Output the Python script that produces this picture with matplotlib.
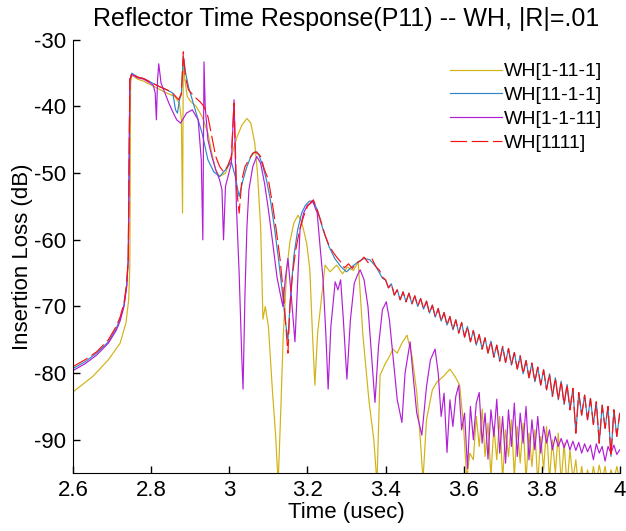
import numpy as np
import matplotlib
matplotlib.use('Agg')
import matplotlib.pyplot as plt

plt.rcParams['font.family'] = ['Liberation Sans', 'DejaVu Sans']
plt.rcParams['axes.unicode_minus'] = False

labels = ['WH[1-11-1]', 'WH[11-1-1]', 'WH[1-1-11]', 'WH[1111]']
colors = ['#d2b214', '#2f86c8', '#b21ed6', '#ff1010']

# ---- WH[1111] (red) ----
t_red = [2.600, 2.630, 2.660, 2.690, 2.710, 2.720, 2.730, 2.737, 2.741, 2.743, 2.745,
         2.750, 2.765, 2.780, 2.800, 2.820, 2.840, 2.855, 2.870, 2.877, 2.882, 2.887,
         2.895, 2.910, 2.925, 2.935, 2.945, 2.955, 2.965, 2.975, 2.985, 2.995, 3.005,
         3.012, 3.018, 3.025, 3.032, 3.040, 3.050, 3.060, 3.070, 3.080, 3.090, 3.100,
         3.110, 3.120, 3.130, 3.140, 3.146, 3.150, 3.155, 3.162, 3.170, 3.180, 3.190,
         3.200, 3.210, 3.215, 3.225, 3.235, 3.245, 3.255, 3.265, 3.275, 3.285, 3.295,
         3.305, 3.315, 3.325, 3.335, 3.345, 3.355, 3.365, 3.375, 3.385, 3.3925]
db_red = [-79.0, -78.0, -76.8, -75.0, -73.0, -71.6, -69.5, -66.5, -62.5, -50.0, -36.0,
          -35.0, -35.6, -35.8, -36.4, -37.0, -37.5, -38.0, -39.0, -38.0, -31.8, -35.5,
          -37.5, -38.5, -39.3, -40.0, -41.5, -44.5, -47.5, -49.0, -49.8, -49.0, -47.5,
          -39.5, -52.0, -56.0, -51.0, -49.0, -48.0, -47.0, -46.8, -47.5, -49.5, -51.0,
          -54.5, -58.5, -63.0, -69.0, -74.0, -77.0, -70.0, -65.0, -61.5, -58.5, -56.5,
          -55.0, -54.3, -54.0, -55.5, -57.3, -59.3, -60.8, -61.8, -62.6, -63.3, -64.2,
          -63.6, -64.3, -63.5, -63.2, -62.6, -63.4, -62.8, -64.0, -64.6, -65.6]
# tail, sampled every 7.5 ns from 3.400 us
db_red_tail = [-66.0, -67.2, -66.6, -68.3, -67.5, -69.0, -67.8, -69.3, -68.0, -69.6,
               -68.4, -70.0, -68.8, -70.4, -69.2, -71.0, -69.8, -71.6, -70.3, -72.2,
               -70.9, -72.8, -71.5, -73.5, -72.0, -74.0, -72.4, -74.6, -73.0, -75.3,
               -73.6, -75.8, -74.2, -76.4, -74.7, -77.0, -75.2, -77.6, -75.8, -78.2,
               -76.0, -78.4, -76.3, -78.8, -76.9, -79.4, -77.4, -80.1, -78.1, -80.7,
               -78.5, -81.3, -79.1, -81.8, -79.5, -82.5, -80.1, -83.5, -80.7, -84.0,
               -81.2, -84.7, -81.7, -85.5, -82.3, -89.0, -82.9, -86.3, -83.3, -87.0,
               -83.8, -87.7, -84.3, -90.5, -84.8, -88.3, -85.0, -92.5, -85.5, -89.5,
               -86.0]

# ---- WH[11-1-1] (blue), mostly under the red trace ----
t_blue = [2.600, 2.630, 2.660, 2.690, 2.710, 2.720, 2.730, 2.737, 2.741, 2.743, 2.745,
          2.750, 2.765, 2.780, 2.800, 2.820, 2.840, 2.855, 2.862, 2.867, 2.872, 2.877,
          2.882, 2.888, 2.895, 2.910, 2.930, 2.945, 2.960, 2.975, 2.990, 3.005, 3.015,
          3.025, 3.035, 3.045, 3.055, 3.065, 3.075, 3.085, 3.095, 3.105, 3.115, 3.125,
          3.135, 3.143, 3.150, 3.156, 3.165, 3.175, 3.185, 3.195, 3.205, 3.215, 3.225,
          3.240, 3.255, 3.270, 3.285, 3.300, 3.315, 3.330, 3.345, 3.360, 3.375, 3.3925]
db_blue = [-79.3, -78.3, -77.0, -75.3, -73.3, -71.9, -69.8, -66.8, -62.8, -50.0, -36.0,
           -35.0, -35.6, -35.8, -36.4, -37.0, -37.5, -38.0, -40.5, -41.0, -39.0, -38.2,
           -32.5, -35.0, -37.0, -40.0, -44.0, -48.0, -49.8, -50.5, -49.5, -48.3, -50.5,
           -53.5, -51.0, -49.0, -47.5, -46.8, -47.2, -48.8, -51.0, -54.0, -58.0, -62.5,
           -67.5, -72.0, -75.0, -69.0, -62.5, -58.5, -56.0, -54.8, -54.2, -54.2, -55.5,
           -58.5, -61.0, -62.8, -64.0, -64.8, -64.0, -63.3, -62.8, -63.0, -64.0, -65.8]
db_blue_tail = list(db_red_tail)   # the two traces coincide after 3.4 us

# ---- WH[1-1-11] (purple) ----
t_purple = [2.600, 2.630, 2.660, 2.690, 2.710, 2.720, 2.730, 2.737, 2.741, 2.743, 2.745,
            2.750, 2.765, 2.780, 2.795, 2.805, 2.810, 2.813, 2.816, 2.819, 2.825, 2.835,
            2.845, 2.855, 2.865, 2.875, 2.890, 2.905, 2.920, 2.928, 2.932, 2.935, 2.938,
            2.945, 2.955, 2.965, 2.975, 2.981, 2.985, 2.990, 3.005, 3.012, 3.018, 3.025,
            3.032, 3.035, 3.040, 3.045, 3.050, 3.060, 3.070, 3.080, 3.090, 3.100, 3.110,
            3.122, 3.130, 3.137, 3.143, 3.150, 3.158, 3.168, 3.175, 3.181, 3.190, 3.200,
            3.214, 3.225, 3.232, 3.240, 3.247, 3.253, 3.260, 3.271, 3.278, 3.285, 3.292,
            3.301, 3.310, 3.320, 3.328, 3.335, 3.345, 3.355, 3.365, 3.373, 3.382, 3.392,
            3.402, 3.410, 3.420, 3.430, 3.442, 3.450, 3.463, 3.470, 3.480, 3.493, 3.505,
            3.515, 3.527]
db_purple = [-79.6, -78.6, -77.3, -75.5, -73.6, -72.2, -70.0, -67.0, -63.0, -50.0, -36.0,
             -35.2, -35.7, -35.9, -36.4, -36.8, -38.0, -42.0, -36.0, -33.6, -36.5, -38.0,
             -39.5, -40.8, -42.0, -42.5, -41.0, -40.5, -42.0, -48.0, -60.0, -33.3, -40.0,
             -45.0, -47.5, -49.5, -51.0, -52.5, -60.0, -52.0, -48.5, -39.0, -55.0, -65.0,
             -78.0, -82.4, -68.0, -58.0, -52.5, -49.0, -47.5, -48.5, -51.5, -55.5, -60.0,
             -65.6, -68.0, -70.0, -66.0, -62.8, -68.0, -75.3, -66.0, -58.4, -56.0, -54.8,
             -54.3, -56.0, -60.8, -66.0, -74.0, -82.4, -73.0, -66.3, -67.5, -66.0, -72.0,
             -80.9, -72.0, -66.5, -65.3, -64.5, -66.0, -70.0, -78.0, -84.4, -76.0, -70.5,
             -69.3, -72.0, -78.0, -84.0, -87.4, -80.0, -75.3, -80.0, -86.0, -89.3, -82.0,
             -78.0, -76.4]
# tail, sampled every 7.5 ns from 3.535 us
db_purple_tail = [-80.0, -86.5, -83.0, -91.9, -84.0, -88.0, -83.5, -81.8, -88.5, -86.0,
                  -94.3, -85.0, -90.0, -84.5, -82.9, -90.5, -86.0, -92.9, -85.5, -89.5,
                  -83.9, -92.0, -86.5, -93.5, -85.5, -91.0, -84.5, -92.5, -86.0, -90.5,
                  -85.0, -93.0, -87.0, -91.5, -86.5, -92.0, -88.0, -90.5, -88.5, -91.5,
                  -89.5, -91.0, -89.8, -91.2, -90.0, -91.5, -90.2, -91.6, -90.4, -92.0,
                  -90.6, -91.8, -90.8, -93.0, -90.6, -92.0, -91.0, -93.2, -91.0, -92.0,
                  -90.8, -92.2, -91.5]

# ---- WH[1-11-1] (yellow) ----
t_yellow = [2.600, 2.650, 2.690, 2.720, 2.735, 2.742, 2.745, 2.747, 2.750, 2.765, 2.780,
            2.800, 2.820, 2.840, 2.860, 2.872, 2.877, 2.880, 2.882, 2.886, 2.892, 2.900,
            2.915, 2.930, 2.945, 2.955, 2.965, 2.975, 2.990, 3.005, 3.020, 3.032, 3.045,
            3.055, 3.065, 3.072, 3.080, 3.086, 3.092, 3.100, 3.110, 3.118, 3.125, 3.132,
            3.138, 3.147, 3.155, 3.165, 3.176, 3.186, 3.198, 3.206, 3.213, 3.219, 3.226,
            3.235, 3.245, 3.258, 3.275, 3.290, 3.302, 3.318, 3.330, 3.342, 3.358, 3.370,
            3.378, 3.386, 3.400, 3.410, 3.419, 3.430, 3.442, 3.455, 3.468, 3.480, 3.488,
            3.496, 3.505, 3.520, 3.532, 3.548, 3.565, 3.578, 3.590, 3.600, 3.608, 3.616]
db_yellow = [-82.8, -80.5, -78.0, -75.5, -72.5, -69.0, -64.0, -36.5, -35.3, -35.9, -36.2,
             -36.8, -37.4, -38.0, -38.5, -39.5, -42.0, -56.0, -33.5, -36.0, -38.5, -39.2,
             -40.0, -41.5, -44.0, -47.0, -49.5, -50.5, -50.0, -47.5, -44.5, -42.8, -41.8,
             -42.5, -45.5, -50.0, -58.0, -71.9, -70.0, -73.0, -82.4, -89.0, -96.5, -85.0,
             -74.3, -64.5, -60.3, -57.5, -56.3, -57.5, -60.5, -64.4, -74.3, -81.8, -74.0,
             -69.3, -63.8, -64.8, -63.8, -65.1, -64.1, -64.6, -63.3, -74.3, -84.4, -90.0,
             -96.5, -80.3, -78.5, -77.5, -76.4, -77.0, -75.5, -74.3, -77.5, -82.9, -89.0,
             -96.0, -87.0, -82.5, -81.3, -80.5, -79.4, -80.5, -81.8, -88.0, -96.0, -92.0]
# tail, sampled every 7.5 ns from 3.625 us
db_yellow_tail = [-93.0, -86.5, -91.0, -85.4, -92.5, -87.5, -95.5, -88.0, -93.0, -86.5,
                  -96.0, -88.5, -92.5, -87.0, -95.5, -88.0, -93.5, -87.5, -96.0, -89.0,
                  -94.0, -88.5, -96.5, -89.5, -94.5, -88.0, -96.0, -90.0, -95.0, -89.0,
                  -96.5, -90.5, -97.0, -91.5, -96.0, -93.0, -97.5, -94.0, -97.0, -94.5,
                  -97.0, -94.0, -96.5, -93.8, -96.0, -94.0, -97.0, -94.5, -96.0, -94.0,
                  -96.0]


def tail_times(start, n, step=0.0075):
    return list(start + step * np.arange(n))


series = [
    (t_yellow + tail_times(3.625, len(db_yellow_tail)), db_yellow + db_yellow_tail),
    (t_blue + tail_times(3.400, len(db_blue_tail)), db_blue + db_blue_tail),
    (t_purple + tail_times(3.535, len(db_purple_tail)), db_purple + db_purple_tail),
    (t_red + tail_times(3.400, len(db_red_tail)), db_red + db_red_tail),
]

fig = plt.figure(figsize=(6.26, 5.31), dpi=100)
ax = fig.add_axes([0.117, 0.109, 0.873, 0.816])

for (t, db), lab, c in zip(series, labels, colors):
    if lab == 'WH[1111]':
        ax.plot(t, db, color=c, lw=0.85, dashes=(14, 4), label=lab)
    else:
        ax.plot(t, db, color=c, lw=0.85, label=lab)

ax.set_xlim(2.6, 4.0)
ax.set_ylim(-95, -30)
ax.set_xticks([2.6, 2.8, 3.0, 3.2, 3.4, 3.6, 3.8, 4.0])
ax.set_xticklabels(['2.6', '2.8', '3', '3.2', '3.4', '3.6', '3.8', '4'])
ax.set_yticks([-90, -80, -70, -60, -50, -40, -30])
ax.tick_params(direction='in', length=5, labelsize=16, width=1, pad=5)
ax.spines['top'].set_visible(False)
ax.spines['right'].set_visible(False)

ax.set_title('Reflector Time Response(P11) -- WH, |R|=.01', fontsize=18, pad=10)
ax.set_xlabel('Time (usec)', fontsize=16, labelpad=1)
ax.set_ylabel('Insertion Loss (dB)', fontsize=16, labelpad=1)

ax.legend(loc='upper left', bbox_to_anchor=(440 / 626, 1 - 53 / 531),
          bbox_transform=fig.transFigure, frameon=False, fontsize=14,
          handlelength=2.7, handletextpad=0.1, labelspacing=0.32, borderpad=0)

fig.savefig('out.png', dpi=100)
